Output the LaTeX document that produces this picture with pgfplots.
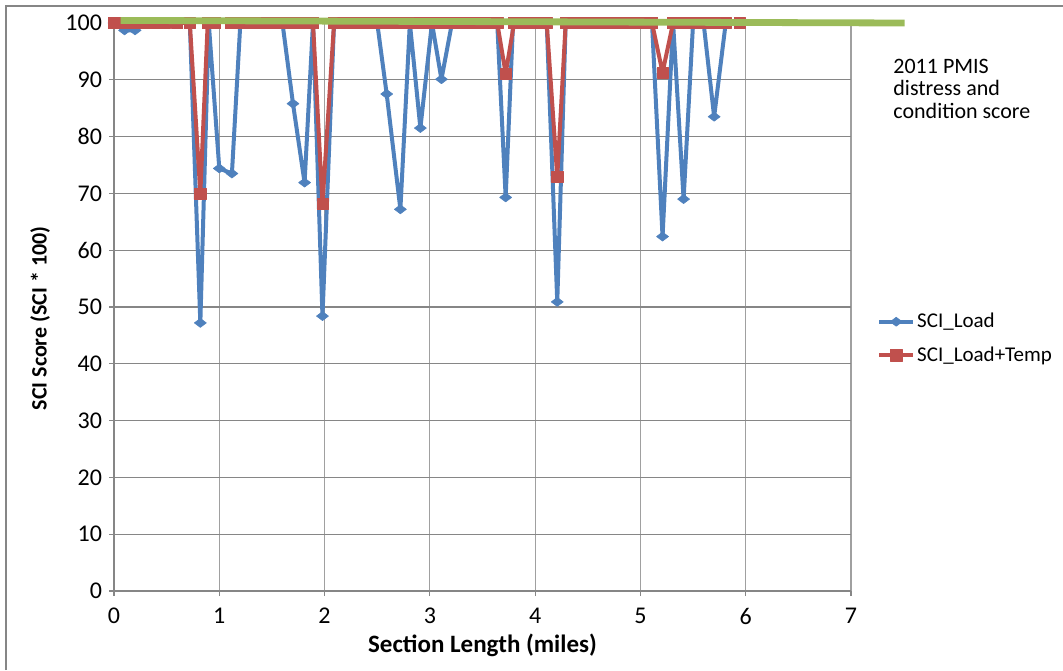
\documentclass[border=0pt]{standalone}
\usepackage{fontspec}
\setmainfont{Carlito}
\usepackage{pgfplots}
\pgfplotsset{compat=1.18}
\definecolor{xlblue}{RGB}{79,129,189}
\definecolor{xlred}{RGB}{192,80,77}
\definecolor{xlgreen}{RGB}{155,187,89}
\definecolor{gridgray}{RGB}{134,134,134}
\definecolor{vgridgray}{RGB}{160,160,160}
\begin{document}
\begin{tikzpicture}[x=1pt,y=1pt]
\useasboundingbox (-57,-39.5) rectangle (474.5,295.5);
\draw[gridgray,line width=0.7pt] (-54,-39.5) -- (-54,292.5) -- (474.5,292.5);
\begin{axis}[
  at={(0,0)}, anchor=south west,
  scale only axis, width=368.5pt, height=284pt,
  xmin=0, xmax=7, ymin=0, ymax=100,
  xtick={0,1,...,7}, ytick={0,10,...,100},
  ymajorgrids, xmajorgrids,
  y grid style={gridgray, line width=0.6pt},
  x grid style={vgridgray, line width=0.6pt},
  axis lines=left, axis line style={-, gridgray, line width=0.7pt},
  tick align=outside, major tick length=2.5pt, tick style={gridgray, line width=0.6pt},
  tick label style={font=\fontsize{12}{14}\selectfont},
  xticklabel style={yshift=-2.5pt},
  /pgf/number format/assume math mode=true,
  xlabel={Section Length (miles)}, ylabel={SCI Score (SCI * 100)},
  xlabel style={font=\fontsize{12.5}{14}\selectfont\bfseries, at={(axis description cs:0.5,-0.095)}, anchor=center},
  ylabel style={font=\fontsize{11}{13}\selectfont\bfseries, at={(axis description cs:-0.1004,0.48)}, anchor=center},
  clip=false,
  clip marker paths=true,
  unbounded coords=jump,
  legend cell align=left,
  legend style={draw=none, fill=none, at={(axis description cs:1.035,0.4445)}, anchor=west,
    font=\fontsize{10.5}{12}\selectfont, row sep=4pt, inner sep=0pt,
    nodes={inner xsep=1pt}},
  legend image code/.code={\draw[mark repeat=2,mark phase=2,#1] plot coordinates {(0pt,0pt) (8.5pt,0pt) (17pt,0pt)};},
]
\addplot[xlblue, line width=2pt, line join=round, mark=diamond*, mark size=3pt, mark options={rotate=90, solid, line width=0.3pt}] coordinates {
(0.00,100) (0.10,98.7) (0.20,98.7) (0.31,100) (0.39,100) (0.48,100) (0.60,100) (0.72,100)
(0.82,47.2) (0.90,100) (1.00,74.4) (1.12,73.5) (1.20,100) (1.30,100) (1.40,100) (1.50,100)
(1.60,100) (1.70,85.8) (1.81,71.9) (1.89,100) (1.98,48.4) (2.09,100) (2.20,100) (2.30,100)
(2.40,100) (2.50,100) (2.59,87.5) (2.72,67.2) (2.81,100) (2.91,81.5) (3.02,100) (3.11,90.1)
(3.21,100) (3.32,100) (3.42,100) (3.53,100) (3.64,100) (3.72,69.3) (3.79,100) (3.90,100)
(4.00,100) (4.11,100) (4.21,50.9) (4.29,100) (4.40,100) (4.50,100) (4.60,100) (4.70,100)
(4.80,100) (4.90,100) (5.00,100) (5.11,100) (5.21,62.4) (5.31,100) (5.41,69.0) (5.50,100)
(5.60,100) (5.70,83.5) (5.81,100) (5.91,100)
};
\addlegendentry{SCI\_Load}
\addplot[xlred, line width=2pt, line join=round, mark=square*, mark size=2.8pt, mark options={solid, line width=0.3pt}] coordinates {
(0.00,100) (0.10,100) (0.20,100) (0.31,100) (0.39,100) (0.48,100) (0.60,100) (0.72,100)
(0.82,70.0) (0.89,100) (0.96,100) (1.03,nan) (1.11,100) (1.20,100) (1.30,100) (1.40,100) (1.50,100)
(1.60,100) (1.70,100) (1.80,100) (1.89,100) (1.98,68.1) (2.09,100) (2.20,100) (2.30,100)
(2.40,100) (2.50,100) (2.60,100) (2.70,100) (2.80,100) (2.90,100) (3.00,100) (3.10,100)
(3.21,100) (3.32,100) (3.42,100) (3.53,100) (3.64,100) (3.72,91.1) (3.80,100) (3.90,100)
(4.00,100) (4.11,100) (4.21,72.9) (4.29,100) (4.35,nan) (4.40,100) (4.50,100) (4.60,100) (4.65,nan) (4.70,100)
(4.80,100) (4.90,100) (5.00,100) (5.11,100) (5.21,91.3) (5.31,100) (5.41,100) (5.50,100)
(5.60,100) (5.70,100) (5.81,100) (5.94,100)
};
\addlegendentry{SCI\_Load+Temp}
\addplot[xlgreen, line width=3.4pt, forget plot] coordinates {(0.064,100.45) (7.51,100.0)};
\node[anchor=north west, align=left, inner sep=0pt, font=\fontsize{11}{11.2}\selectfont]
  at (axis description cs:1.057,0.937) {2011 PMIS\\distress and\\condition score};
\end{axis}
\end{tikzpicture}
\end{document}
